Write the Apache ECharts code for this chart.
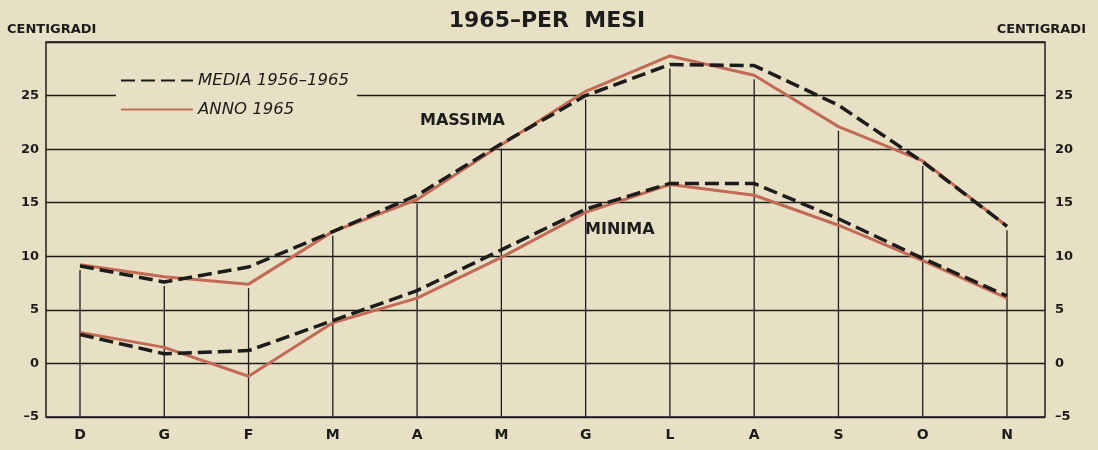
<!DOCTYPE html>
<html>
<head>
<meta charset="utf-8">
<title>1965-PER MESI</title>
<script src="https://cdn.jsdelivr.net/npm/echarts@6/dist/echarts.min.js"></script>
<style>
  html, body { margin: 0; padding: 0; background: #e8e0c4; }
  #chart { width: 1098px; height: 450px; }
</style>
</head>
<body>
<div id="chart"></div>
<script>
// mesi da dicembre a novembre
const mesi = ['D', 'G', 'F', 'M', 'A', 'M', 'G', 'L', 'A', 'S', 'O', 'N']

// temperature massime
const massimaMedia = [9.1, 7.6, 9.0, 12.3, 15.7, 20.5, 25.0, 27.9, 27.8, 24.1, 18.8, 12.8]
const massimaAnno = [9.2, 8.1, 7.4, 12.3, 15.3, 20.4, 25.4, 28.7, 26.9, 22.1, 18.9, 12.8]

// temperature minime
const minimaMedia = [2.7, 0.9, 1.2, 4.0, 6.8, 10.6, 14.4, 16.8, 16.8, 13.5, 9.8, 6.3]
const minimaAnno = [2.9, 1.5, -1.2, 3.8, 6.1, 9.9, 14.1, 16.7, 15.7, 12.9, 9.6, 6.1]

const yTicks = [-5, 0, 5, 10, 15, 20, 25]

const nomeMedia = 'MEDIA 1956–1965'
const nomeAnno = 'ANNO 1965'

const ink = '#1c1c1a'
const rosso = '#c26a55'
const font = 'DejaVu Sans'

const chart = echarts.init(document.getElementById('chart'))

// linee verticali della griglia: dal fondo fino sotto la curva delle massime
const verticali = mesi.map((m, i) => [i, Math.min(massimaMedia[i], massimaAnno[i])])

const yLabel = {
  fontFamily: font,
  fontWeight: 'bold',
  fontSize: 13,
  color: ink,
  formatter: v => (yTicks.indexOf(v) >= 0 ? String(v).replace('-', '–') : '')
}

const option = {
  backgroundColor: '#e8e0c4',
  animation: false,
  title: {
    text: '1965–PER  MESI',
    left: 542,
    textAlign: 'center',
    top: 5,
    textStyle: { fontFamily: font, fontSize: 22, fontWeight: 'bold', color: ink }
  },
  legend: {
    orient: 'vertical',
    left: 116,
    top: 68,
    itemWidth: 72,
    itemHeight: 10,
    itemGap: 12,
    padding: [4, 8, 4, 4],
    backgroundColor: '#e8e0c4',
    data: [nomeMedia, nomeAnno],
    itemStyle: { opacity: 0 },
    textStyle: { fontFamily: font, fontSize: 16.5, fontStyle: 'italic', color: ink }
  },
  graphic: [
    { type: 'text', left: 7, top: 23, style: { text: 'CENTIGRADI', font: 'bold 13px "DejaVu Sans"', fill: ink } },
    { type: 'text', right: 12, top: 23, style: { text: 'CENTIGRADI', font: 'bold 13px "DejaVu Sans"', fill: ink } },
    { type: 'text', left: 420, top: 113, style: { text: 'MASSIMA', font: 'bold 16px "DejaVu Sans"', fill: ink } },
    { type: 'text', left: 585, top: 222, style: { text: 'MINIMA', font: 'bold 16px "DejaVu Sans"', fill: ink } }
  ],
  grid: [
    // cornice e linee orizzontali
    { left: 46, right: 53, top: 42, bottom: 33, show: true, borderColor: ink, borderWidth: 1.5, backgroundColor: 'transparent' },
    // area dei dati, allineata ai mesi
    { left: 80, right: 91, top: 42, bottom: 33 }
  ],
  xAxis: [
    { gridIndex: 0, type: 'value', min: 0, max: 1, show: false },
    {
      gridIndex: 1,
      type: 'category',
      data: mesi,
      boundaryGap: false,
      axisLine: { show: false },
      axisTick: { show: false },
      splitLine: { show: false },
      axisLabel: { margin: 11, fontFamily: font, fontWeight: 'bold', fontSize: 14, color: ink }
    }
  ],
  yAxis: [
    {
      gridIndex: 0, type: 'value', min: -5, max: 30, interval: 5, position: 'left',
      axisLine: { show: false }, axisTick: { show: false },
      splitLine: { lineStyle: { color: ink, width: 1.3 } },
      axisLabel: Object.assign({ margin: 7 }, yLabel)
    },
    {
      gridIndex: 0, type: 'value', min: -5, max: 30, interval: 5, position: 'right',
      axisLine: { show: false }, axisTick: { show: false }, splitLine: { show: false },
      axisLabel: Object.assign({ margin: 10 }, yLabel)
    },
    { gridIndex: 1, type: 'value', min: -5, max: 30, interval: 5, show: false }
  ],
  series: [
    {
      type: 'custom',
      xAxisIndex: 1,
      yAxisIndex: 2,
      silent: true,
      data: verticali,
      renderItem: (params, api) => {
        const base = api.coord([api.value(0), -5])
        const top = api.coord([api.value(0), api.value(1)])
        return {
          type: 'line',
          shape: { x1: base[0], y1: base[1], x2: top[0], y2: top[1] + 4 },
          style: { stroke: ink, lineWidth: 1.3 }
        }
      },
      z: 1
    },
    {
      name: nomeAnno, type: 'line', xAxisIndex: 1, yAxisIndex: 2, data: massimaAnno,
      symbol: 'none', color: rosso, lineStyle: { color: rosso, width: 3 }, z: 3
    },
    {
      name: nomeAnno, type: 'line', xAxisIndex: 1, yAxisIndex: 2, data: minimaAnno,
      symbol: 'none', color: rosso, lineStyle: { color: rosso, width: 3 }, z: 3
    },
    {
      name: nomeMedia, type: 'line', xAxisIndex: 1, yAxisIndex: 2, data: massimaMedia,
      symbol: 'none', color: ink, lineStyle: { color: ink, width: 3.5, type: [14, 6] }, z: 4
    },
    {
      name: nomeMedia, type: 'line', xAxisIndex: 1, yAxisIndex: 2, data: minimaMedia,
      symbol: 'none', color: ink, lineStyle: { color: ink, width: 3.5, type: [14, 6] }, z: 4
    }
  ]
}

chart.setOption(option)
</script>
</body>
</html>
